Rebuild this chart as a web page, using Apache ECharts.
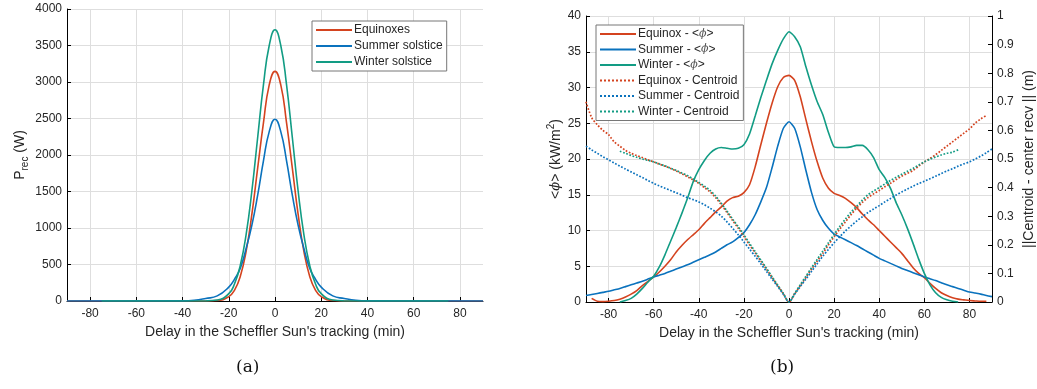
<!DOCTYPE html>
<html>
<head>
<meta charset="utf-8">
<script src="https://cdn.jsdelivr.net/npm/echarts@6/dist/echarts.min.js"></script>
<style>
  html, body { margin: 0; padding: 0; background: #fff; }
  #root { width: 1037px; height: 389px; }
</style>
</head>
<body>
<div id="root"></div>
<script>
// (a) received power vs tracking delay
const powerX = [-90, -40, -35, -30, -25, -20, -17.5, -15, -12.5, -10, -7.5, -5, -2.5, 0, 2.5, 5, 7.5, 10, 12.5, 15, 17.5, 20, 25, 30, 35, 40, 90];
const winterPowerX = [-75, -40, -35, -30, -25, -20, -17.5, -15, -12.5, -10, -7.5, -5, -2.5, 0, 2.5, 5, 7.5, 10, 12.5, 15, 17.5, 20, 25, 30, 35, 40, 75];
const equinoxPower = [0, 0, 0, 1, 6, 60, 150, 340, 680, 1190, 1820, 2440, 2960, 3145, 2960, 2440, 1820, 1190, 680, 340, 150, 60, 6, 1, 0, 0, 0];
const summerPower = [0, 2, 10, 35, 70, 190, 300, 450, 720, 1040, 1450, 1920, 2320, 2490, 2320, 1920, 1450, 1040, 720, 450, 300, 190, 70, 35, 10, 2, 0];
const winterPower = [0, 0, 0, 1, 13, 100, 236, 490, 910, 1510, 2240, 2960, 3500, 3715, 3500, 2960, 2240, 1510, 910, 490, 236, 100, 13, 1, 0, 0, 0];

// (b) mean flux and centroid distance, sampled every 2.5 min
const delayX = [-90, -87.5, -85, -82.5, -80, -77.5, -75, -72.5, -70, -67.5, -65, -62.5, -60, -57.5, -55, -52.5, -50, -47.5, -45, -42.5, -40, -37.5, -35, -32.5, -30, -27.5, -25, -22.5, -20, -17.5, -15, -12.5, -10, -7.5, -5, -2.5,
  0, 2.5, 5, 7.5, 10, 12.5, 15, 17.5, 20, 22.5, 25, 27.5, 30, 32.5, 35, 37.5, 40, 42.5, 45, 47.5, 50, 52.5, 55, 57.5, 60, 62.5, 65, 67.5, 70, 72.5, 75, 77.5, 80, 82.5, 85, 87.5, 90];
const equinoxPhi = [null, 0.5, 0.1, 0.05, 0.1, 0.2, 0.4, 0.7, 1.1, 1.6, 2.3, 2.9, 3.5, 4.2, 5.0, 5.9, 7.0, 7.9, 8.7, 9.4, 10.1, 11.0, 11.8, 12.6, 13.3, 14.1, 14.6, 14.8, 15.3, 16.4, 18.9, 22.0, 25.0, 27.8, 30.1, 31.4,
  31.7, 31.0, 28.7, 25.5, 22.4, 19.6, 17.3, 15.9, 15.2, 14.9, 14.5, 13.9, 13.2, 12.3, 11.5, 10.8, 10.0, 9.2, 8.4, 7.6, 6.8, 5.8, 4.8, 4.0, 3.4, 2.6, 1.9, 1.3, 0.9, 0.6, 0.4, 0.3, 0.2, 0.15, 0.1, 0.1, null];
const summerPhi = [0.9, 1.05, 1.2, 1.35, 1.5, 1.7, 1.9, 2.15, 2.4, 2.65, 2.9, 3.2, 3.5, 3.75, 4.0, 4.3, 4.6, 4.9, 5.2, 5.55, 5.9, 6.25, 6.6, 7.0, 7.5, 8.0, 8.4, 9.0, 9.7, 10.8, 12.2, 14.0, 16.0, 18.8, 21.8, 24.3,
  25.2, 24.3, 21.7, 18.4, 15.3, 12.9, 11.4, 10.3, 9.5, 9.1, 8.7, 8.3, 7.9, 7.45, 7.0, 6.55, 6.1, 5.75, 5.4, 5.05, 4.7, 4.4, 4.1, 3.8, 3.5, 3.25, 3.0, 2.7, 2.4, 2.15, 1.9, 1.65, 1.4, 1.25, 1.1, 0.9, 0.75];
const winterPhi = [null, null, null, null, null, null, 0, 0.2, 0.5, 1.1, 1.9, 2.8, 3.6, 4.9, 6.6, 8.5, 10.4, 12.4, 14.5, 16.8, 18.5, 19.8, 20.8, 21.4, 21.6, 21.5, 21.4, 21.5, 22.0, 23.5, 26.0, 28.6, 31.0, 33.3, 35.2, 36.8,
  37.8, 37.1, 35.7, 32.9, 30.3, 28.0, 26.2, 23.7, 21.7, 21.6, 21.6, 21.7, 21.9, 21.9, 21.3, 20.2, 18.5, 17.4, 15.9, 13.9, 12.2, 10.3, 8.2, 6.0, 4.0, 2.4, 1.3, 0.65, 0.3, 0.1, 0, null, null, null, null, null, null];
const equinoxCentroid = [0.7, 0.645, 0.62, 0.6, 0.585, 0.56, 0.545, 0.53, 0.52, 0.512, 0.505, 0.497, 0.49, 0.482, 0.475, 0.467, 0.458, 0.448, 0.438, 0.427, 0.415, 0.4, 0.385, 0.365, 0.34, 0.313, 0.285, 0.258, 0.23, 0.2, 0.172, 0.143, 0.115, 0.086, 0.057, 0.029,
  0, 0.029, 0.057, 0.086, 0.115, 0.143, 0.17, 0.2, 0.228, 0.255, 0.28, 0.305, 0.328, 0.348, 0.365, 0.378, 0.39, 0.403, 0.415, 0.428, 0.44, 0.45, 0.46, 0.475, 0.49, 0.502, 0.515, 0.53, 0.545, 0.56, 0.575, 0.59, 0.605, 0.625, 0.64, 0.652, null];
const summerCentroid = [0.545, 0.532, 0.52, 0.508, 0.497, 0.486, 0.475, 0.465, 0.455, 0.445, 0.435, 0.425, 0.415, 0.406, 0.398, 0.39, 0.382, 0.374, 0.365, 0.358, 0.35, 0.34, 0.328, 0.315, 0.3, 0.28, 0.258, 0.235, 0.21, 0.185, 0.16, 0.134, 0.107, 0.08, 0.054, 0.027,
  0, 0.027, 0.054, 0.08, 0.107, 0.134, 0.16, 0.184, 0.207, 0.228, 0.248, 0.266, 0.283, 0.298, 0.313, 0.325, 0.337, 0.35, 0.362, 0.374, 0.385, 0.395, 0.405, 0.414, 0.422, 0.431, 0.44, 0.449, 0.458, 0.466, 0.475, 0.483, 0.49, 0.5, 0.51, 0.522, 0.535];
const winterCentroid = [null, null, null, null, null, null, 0.527, 0.52, 0.512, 0.506, 0.5, 0.495, 0.49, 0.483, 0.476, 0.468, 0.46, 0.451, 0.442, 0.43, 0.418, 0.405, 0.39, 0.37, 0.345, 0.318, 0.29, 0.263, 0.235, 0.205, 0.176, 0.147, 0.118, 0.088, 0.059, 0.03,
  0, 0.03, 0.06, 0.09, 0.12, 0.149, 0.178, 0.207, 0.236, 0.264, 0.29, 0.314, 0.335, 0.356, 0.375, 0.388, 0.4, 0.413, 0.425, 0.436, 0.447, 0.457, 0.467, 0.479, 0.49, 0.499, 0.507, 0.514, 0.52, 0.524, 0.532, null, null, null, null, null, null];

const RED = '#d4431f', BLUE = '#0a72bd', GREEN = '#129c84';
const FONT = 'Liberation Sans, Arial, sans-serif';
const TXT = '#262626';

const pairs = (xs, ys) => xs.map((x, i) => [x, ys[i]]).filter(p => p[1] !== null);

const chart = echarts.init(document.getElementById('root'));

function xAxisFor(gridIndex, hideMax) {
  return {
    type: 'value', gridIndex: gridIndex, min: -90, max: 90, splitNumber: 9,
    name: "Delay in the Scheffler Sun's tracking (min)", nameLocation: 'middle', nameGap: 24,
    nameTextStyle: { fontFamily: FONT, fontSize: 14, color: TXT },
    axisLine: { onZero: false, lineStyle: { color: '#000', width: 1 } },
    axisTick: { inside: true, length: 4, lineStyle: { color: '#000' } },
    axisLabel: { fontFamily: FONT, fontSize: 12, color: TXT, margin: 7, showMinLabel: false, showMaxLabel: false },
    splitLine: { show: true, showMinLine: false, showMaxLine: !hideMax, lineStyle: { color: '#dedede', width: 1 } }
  };
}

function yAxisBase(gridIndex, min, max, interval) {
  return {
    type: 'value', gridIndex: gridIndex, min: min, max: max, interval: interval,
    nameLocation: 'middle', nameRotate: 90,
    axisLine: { show: true, onZero: false, lineStyle: { color: '#000' } },
    axisTick: { show: true, inside: true, length: 4, lineStyle: { color: '#000' } },
    axisLabel: { fontFamily: FONT, fontSize: 12, color: TXT, margin: 5, formatter: (v) => String(+v.toFixed(2)) },
    splitLine: { show: true, lineStyle: { color: '#dedede' } }
  };
}

function line(name, xs, ys, color, xi, yi, dotted, smooth) {
  return {
    name: name, type: 'line', xAxisIndex: xi, yAxisIndex: yi,
    data: pairs(xs, ys), showSymbol: false, symbol: 'none', smooth: smooth,
    lineStyle: { color: color, width: dotted ? 1.7 : 1.6, type: dotted ? 'dotted' : 'solid' },
    itemStyle: { color: color }
  };
}

const legendBase = {
  orient: 'vertical', itemWidth: 36, itemHeight: 14,
  padding: [3, 4, 3, 3], backgroundColor: '#fff', borderColor: '#777', borderWidth: 1,
  itemStyle: { opacity: 0 }
};

const yPower = yAxisBase(0, 0, 4000, 500);
yPower.name = '{n|P}{s|rec}{n| (W)}';
yPower.nameGap = 37;
yPower.nameTextStyle = { rich: {
  n: { fontFamily: FONT, fontSize: 14, color: TXT, lineHeight: 20 },
  s: { fontFamily: FONT, fontSize: 10, color: TXT, lineHeight: 12, verticalAlign: 'bottom' }
} };

const yPhi = yAxisBase(1, 0, 40, 5);
yPhi.name = '<{i|ϕ}> (kW/m{p|2})';
yPhi.nameGap = 20;
yPhi.nameTextStyle = { fontFamily: FONT, fontSize: 14, color: TXT, rich: {
  i: { fontFamily: 'DejaVu Serif, serif', fontStyle: 'italic', fontSize: 13, color: TXT, lineHeight: 20 },
  p: { fontFamily: FONT, fontSize: 10, color: TXT, lineHeight: 12, verticalAlign: 'top' }
} };

const yDist = yAxisBase(1, 0, 1, 0.1);
yDist.position = 'right';
yDist.name = '||Centroid - center recv || (m)';
yDist.nameGap = 30;
yDist.nameTextStyle = { fontFamily: FONT, fontSize: 14, color: TXT };
yDist.splitLine = { show: false };

chart.setOption({
  animation: false,
  backgroundColor: '#fff',
  grid: [
    { left: 67, right: 554, top: 9, bottom: 88, containLabel: false },
    { left: 586, right: 43, top: 16, bottom: 87, containLabel: false }
  ],
  xAxis: [xAxisFor(0, true), xAxisFor(1, false)],
  yAxis: [yPower, yPhi, yDist],
  legend: [
    Object.assign({}, legendBase, {
      data: ['Equinoxes', 'Summer solstice', 'Winter solstice'],
      left: 312, top: 21, itemGap: 4,
      textStyle: { fontFamily: FONT, fontSize: 12, color: TXT, padding: [0, 0, 0, -3] }
    }),
    Object.assign({}, legendBase, {
      data: ['Equinox - <ϕ>', 'Summer - <ϕ>', 'Winter - <ϕ>', 'Equinox - Centroid', 'Summer - Centroid', 'Winter - Centroid'],
      left: 596, top: 25, itemGap: 3.5,
      formatter: (name) => name.replace('ϕ', '{i|ϕ}'),
      textStyle: { fontFamily: FONT, fontSize: 12, color: TXT, padding: [0, 0, 0, -3], rich: {
        i: { fontFamily: 'DejaVu Serif, serif', fontStyle: 'italic', fontSize: 11, color: '#555' }
      } }
    })
  ],
  series: [
    line('Equinoxes', powerX, equinoxPower, RED, 0, 0, false, true),
    line('Summer solstice', powerX, summerPower, BLUE, 0, 0, false, true),
    line('Winter solstice', winterPowerX, winterPower, GREEN, 0, 0, false, true),
    line('Equinox - <ϕ>', delayX, equinoxPhi, RED, 1, 1, false, 0.2),
    line('Summer - <ϕ>', delayX, summerPhi, BLUE, 1, 1, false, 0.2),
    line('Winter - <ϕ>', delayX, winterPhi, GREEN, 1, 1, false, 0.2),
    line('Equinox - Centroid', delayX, equinoxCentroid, RED, 1, 2, true, 0.3),
    line('Summer - Centroid', delayX, summerCentroid, BLUE, 1, 2, true, 0.3),
    line('Winter - Centroid', delayX, winterCentroid, GREEN, 1, 2, true, 0.3)
  ],
  graphic: [
    { type: 'text', left: 236, top: 359, style: { text: '(a)', fontFamily: 'DejaVu Serif, Liberation Serif, serif', fontSize: 17, fill: '#111' } },
    { type: 'text', left: 770, top: 359, style: { text: '(b)', fontFamily: 'DejaVu Serif, Liberation Serif, serif', fontSize: 17, fill: '#111' } }
  ]
});
</script>
</body>
</html>
